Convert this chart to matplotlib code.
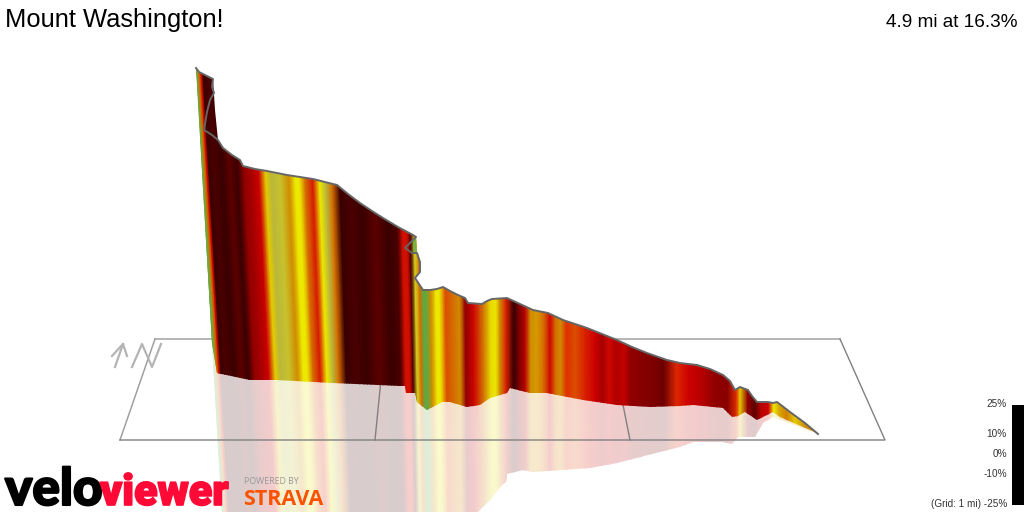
import numpy as np
from matplotlib import pyplot as plt
from matplotlib import patheffects
from matplotlib.colors import LinearSegmentedColormap, to_rgb
from matplotlib.patches import Polygon, Rectangle

# profile outline, in picture pixels
top_x = [196, 199, 213, 215, 218, 223, 232, 240, 243, 255, 267, 287, 300, 313, 325, 337, 348, 360, 372, 383, 398, 413, 416,
         417, 420, 420, 415, 423, 430, 437, 443, 450, 458, 465, 468, 482, 487, 492, 507, 520, 533, 548, 563, 575, 587,
         602, 617, 632, 647, 667, 680, 697, 710, 723, 730, 735, 740, 748, 752, 757, 768, 773, 777, 790, 805, 818]
top_y = [68, 72, 79, 110, 140, 148, 155, 160, 166, 169, 171, 175, 177, 179, 182, 185, 194, 203, 211, 218, 227, 235, 237,
         253, 262, 272, 278, 290, 290, 289, 287, 291, 295, 298, 303, 304, 301, 299, 298, 304, 310, 313, 320, 324, 328,
         334, 340, 347, 353, 360, 363, 365, 369, 375, 381, 390, 387, 390, 396, 402, 402, 403, 402, 412, 423, 434]
bottom_x = [212, 217, 250, 277, 333, 400, 405, 406, 415, 417, 427, 442, 450, 467, 480, 490, 507, 510, 530, 547, 583,
            617, 650, 680, 693, 723, 732, 738, 745, 757, 773, 780, 817]
bottom_y = [343, 373, 380, 380, 383, 386, 386, 393, 393, 402, 410, 402, 402, 407, 405, 398, 393, 388, 393, 393, 400,
            405, 407, 406, 405, 408, 417, 416, 412, 420, 412, 417, 433]
mirror_x = [818, 773, 763, 755, 738, 732, 722, 693, 680, 660, 617, 590, 533, 523, 507, 506, 500, 490, 478, 222]
mirror_y = [434, 417, 423, 437, 437, 444, 442, 442, 447, 452, 463, 468, 472, 470, 474, 482, 487, 500, 512, 512]

# grey ridge line over the outline, it folds back on itself twice
ridge_x = [196, 199, 213, 212, 214, 210, 207, 204, 212, 218, 223, 232, 240, 243, 255, 267, 287, 300, 313, 325, 337, 348,
           360, 372, 383, 398, 413, 416, 405, 412, 417, 420, 420, 415, 423, 430, 437, 443, 450, 458, 465, 468, 482, 487,
           492, 507, 520, 533, 548, 563, 575, 587, 602, 617, 632, 647, 667, 680, 697, 710, 723, 730, 735, 740, 748, 752,
           757, 768, 773, 777, 790, 805, 818]
ridge_y = [68, 72, 79, 87, 93, 100, 112, 130, 135, 140, 148, 155, 160, 166, 169, 171, 175, 177, 179, 182, 185, 194,
           203, 211, 218, 227, 235, 237, 248, 253, 253, 262, 272, 278, 290, 290, 289, 287, 291, 295, 298, 303, 304, 301,
           299, 298, 304, 310, 313, 320, 324, 328, 334, 340, 347, 353, 360, 363, 365, 369, 375, 381, 390, 387, 390, 396,
           402, 402, 403, 402, 412, 423, 434]

# colour stripes along the ride: edges in pixels, gradient in percent
band_edges = [206, 210, 212, 214, 216, 218, 220, 228, 236, 243, 250, 256, 262, 272, 275, 283, 292, 300, 304, 308, 315,
              323, 328, 335, 340, 350, 360, 372, 385, 396, 404, 406, 408, 410, 415, 418, 423, 425, 428, 435, 438, 442,
              450, 457, 463, 468, 480, 488, 493, 498, 502, 510, 517, 522, 528, 533, 540, 547, 553, 558, 563, 570, 580,
              590, 600, 605, 613, 620, 628, 633, 647, 658, 670, 683, 695, 707, 720, 735, 738, 742, 753, 757, 765, 772,
              775, 783, 790, 800, 810, 830]
band_grades = [8, 8, 8.5, 17, 21, 30, 29, 30, 28, 30, 25, 24, 22, 14, 11, 11.5, 16, 13, 13, 17,
               20.5, 13, 11, 17, 30, 29, 30, 28, 30, 29, 21, 21, 21, 29, 12, 17, 8, 8, 16, 13, 13,
               18, 17, 16, 25, 21.5, 16.5, 13.5, 13, 16, 20, 30, 26, 23, 16, 15.5, 17, 21.5, 17, 16, 19, 18,
               20, 22, 24, 21.5, 23.5, 22.5, 25, 25.5, 26, 27, 19.5, 22, 23, 25, 25.5, 19, 14, 25, 28, 23, 22,
               13, 15, 16.5, 14, 16, 16]

grade_stops = [8, 11, 13, 16, 19, 22, 26, 30]
grade_colors = ["#60a840", "#bdb83a", "#ece800", "#d08c00", "#e03000", "#cc0000", "#800000", "#3a0000"]

legend_grades = [25, 10, 0, -10, -25]
legend_labels = ["25%", "10%", "0%", "-10%", "(Grid: 1 mi) -25%"]

grey = "#808080"
light_grey = "#a0a0a0"
arrow_grey = "#b4b4b4"


def grade_map(name, fade):
    # fade mixes the colours with white, for the reflection
    stops = []
    for g, c in zip(grade_stops, grade_colors):
        rgb = [v * (1 - fade) + fade for v in to_rgb(c)]
        stops.append(((g - 8) / 22, rgb))
    return LinearSegmentedColormap.from_list(name, stops)


fig = plt.figure(figsize=(10.24, 5.12), dpi=100)
ax = fig.add_axes([0, 0, 1, 1])
ax.set_xlim(0, 1024)
ax.set_ylim(512, 0)
ax.axis("off")

# stripes lean with the view, more towards the start of the ride
edges = np.array(band_edges, dtype=float)
centres = (edges[:-1] + edges[1:]) / 2
grades = np.array(band_grades, dtype=float)
lean = 0.06 * np.clip(510 - centres, 0, None) / 295
rows_y = np.array([60.0, 512.0])
mesh_x = np.vstack([centres + (y - 340) * lean for y in rows_y])
mesh_y = np.vstack([np.full_like(centres, y) for y in rows_y])
mesh_c = np.vstack([grades, grades])

# reflection first, then the grid on it, then the wall
mirror_poly = Polygon(list(zip(bottom_x, bottom_y)) + list(zip(mirror_x, mirror_y)), transform=ax.transData,
                      fill=False, edgecolor="none")
ax.add_patch(mirror_poly)
mirror_mesh = ax.pcolormesh(mesh_x, mesh_y, mesh_c, cmap=grade_map("faded", 0.8), vmin=8, vmax=30, shading="gouraud",
                            zorder=1)
mirror_mesh.set_clip_path(mirror_poly)

# ground grid
ax.plot([155, 840], [339, 339], color=light_grey, lw=1.1, zorder=2)
ax.plot([155, 120], [339, 440], color=light_grey, lw=1.1, zorder=2)
ax.plot([120, 885, 840], [440, 440, 339], color=grey, lw=1, zorder=2)
ax.plot([385, 375], [339, 440], color=grey, lw=1, zorder=2)
ax.plot([610, 630], [339, 440], color=grey, lw=1, zorder=2)

# north arrow
ax.plot([115, 123], [367, 344], color=arrow_grey, lw=1.6, zorder=2)
ax.plot([112, 123, 127], [356, 344, 356], color=arrow_grey, lw=1.6, zorder=2)
ax.plot([132, 142, 152, 161], [367, 344, 367, 344], color=arrow_grey, lw=1.6, zorder=2)

wall_poly = Polygon(list(zip(top_x, top_y)) + list(zip(bottom_x[::-1], bottom_y[::-1])), transform=ax.transData,
                    fill=False, edgecolor="none")
ax.add_patch(wall_poly)
wall_mesh = ax.pcolormesh(mesh_x, mesh_y, mesh_c, cmap=grade_map("grade", 0), vmin=8, vmax=30, shading="gouraud",
                          zorder=3)
wall_mesh.set_clip_path(wall_poly)

# small green corner at the fold
ax.add_patch(Polygon([(416, 237), (413, 241), (413, 251), (417, 253)], color="#78b040", lw=0, zorder=4))

ax.plot(ridge_x, ridge_y, color="#666666", lw=1.4, zorder=5)

# headline
ax.text(5, 27, "Mount Washington!", family="Liberation Sans", fontsize=18.4, color="black", ha="left", va="baseline")
ax.text(1018, 27, "4.9 mi at 16.3%", family="Liberation Sans", fontsize=13.7, color="black", ha="right", va="baseline")

# gradient legend
ax.add_patch(Rectangle((1012, 405), 12, 100, color="black", lw=0))
for g, label in zip(legend_grades, legend_labels):
    ax.text(1007, 454 - g * 2, label, family="Liberation Sans", fontsize=7.2, color="#333333", ha="right", va="center")

# logos
heavy_black = [patheffects.withStroke(linewidth=1.5, foreground="black")]
heavy_red = [patheffects.withStroke(linewidth=1.2, foreground="#ff0a37")]
ax.text(5, 505, "velo", family="Lato", fontweight="black", fontsize=37, color="black", ha="left", va="baseline",
        path_effects=heavy_black, zorder=6)
ax.text(100, 505, "viewer", family="Roboto", fontweight="black", fontsize=31, color="#ff0a37", ha="left",
        va="baseline", path_effects=heavy_red, zorder=6)
ax.text(244, 484, "POWERED BY", family="Open Sans", fontsize=6.3, color="#999999", ha="left", va="baseline", zorder=6)
ax.text(243, 505, "STRAVA", family="Open Sans", fontweight="bold", fontsize=15.5, color="#fc5200", ha="left",
        va="baseline", zorder=6)

fig.savefig("out.png", dpi=100)
